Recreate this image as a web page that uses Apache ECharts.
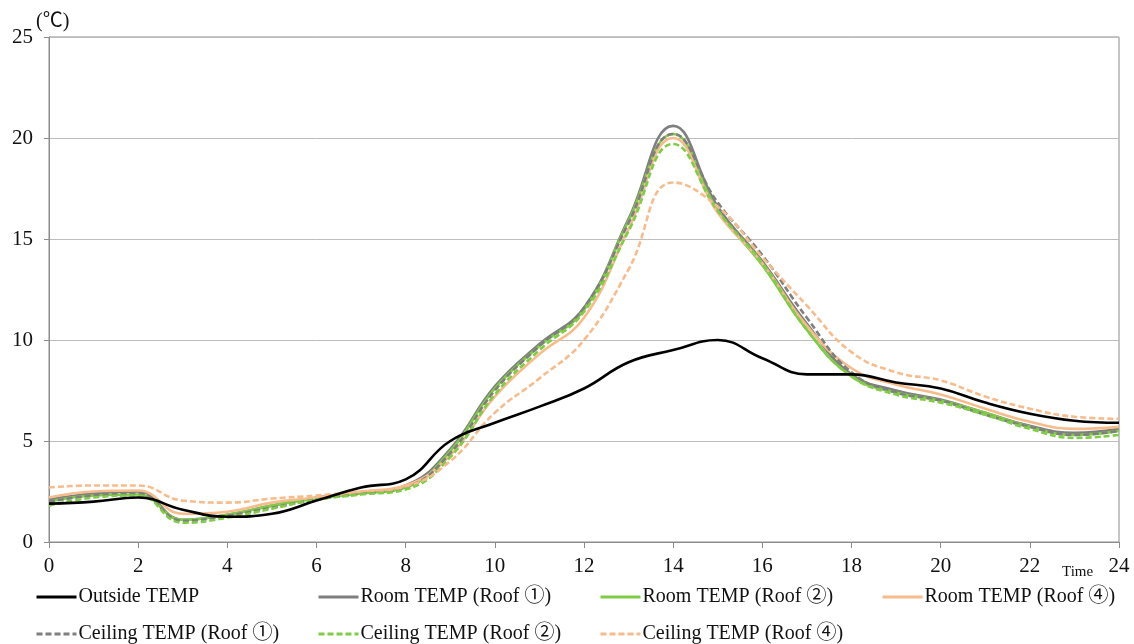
<!DOCTYPE html>
<html>
<head>
<meta charset="utf-8">
<script src="https://cdn.jsdelivr.net/npm/echarts@6/dist/echarts.min.js"></script>
<style>
html,body{margin:0;padding:0;background:#fff;}
#chart{width:1134px;height:644px;}
</style>
</head>
<body>
<div id="chart"></div>
<script>
// hours of the day (x values)
const hours = [0,1,2,3,4,5,6,7,8,9,10,11,12,13,14,15,16,17,18,19,20,21,22,23,24];
const xTicks = [0,2,4,6,8,10,12,14,16,18,20,22,24];
const yTicks = [0,5,10,15,20,25];

const seriesNames = [
  'Outside TEMP',
  'Room TEMP (Roof \u2460)',
  'Room TEMP (Roof \u2461)',
  'Room TEMP (Roof \u2463)',
  'Ceiling TEMP (Roof \u2460)',
  'Ceiling TEMP (Roof \u2461)',
  'Ceiling TEMP (Roof \u2463)'
];

const outsideTemp = [1.9, 2.0, 2.2, 1.6, 1.25, 1.4, 2.05, 2.7, 3.1, 5.0, 5.9, 6.7, 7.6, 8.9, 9.5, 10.0, 9.1, 8.3, 8.3, 7.9, 7.6, 6.9, 6.35, 6.0, 5.9];
const roomRoof1 = [2.1, 2.4, 2.5, 1.1, 1.35, 1.8, 2.2, 2.45, 2.8, 4.6, 7.7, 9.8, 11.6, 16.0, 20.6, 16.6, 13.9, 10.8, 8.3, 7.5, 7.05, 6.4, 5.75, 5.4, 5.6];
const roomRoof2 = [2.0, 2.3, 2.35, 1.1, 1.35, 1.8, 2.15, 2.4, 2.7, 4.5, 7.6, 9.7, 11.5, 15.9, 20.2, 16.4, 13.7, 10.5, 8.2, 7.4, 7.0, 6.4, 5.7, 5.3, 5.5];
const roomRoof4 = [2.2, 2.5, 2.55, 1.4, 1.5, 1.95, 2.2, 2.5, 2.8, 4.3, 7.2, 9.3, 11.1, 15.5, 20.0, 16.3, 13.8, 10.7, 8.6, 7.8, 7.3, 6.6, 5.95, 5.6, 5.7];
const ceilRoof1 = [2.0, 2.3, 2.4, 1.05, 1.3, 1.7, 2.1, 2.4, 2.7, 4.4, 7.5, 9.7, 11.6, 15.8, 20.2, 16.8, 14.2, 11.1, 8.4, 7.4, 7.0, 6.3, 5.7, 5.3, 5.5];
const ceilRoof2 = [1.8, 2.2, 2.3, 0.95, 1.2, 1.65, 2.1, 2.35, 2.6, 4.2, 7.3, 9.5, 11.4, 15.4, 19.7, 16.4, 13.8, 10.5, 8.2, 7.3, 6.9, 6.3, 5.6, 5.15, 5.3];
const ceilRoof4 = [2.7, 2.8, 2.8, 2.05, 1.95, 2.15, 2.3, 2.5, 2.75, 4.0, 6.4, 8.1, 10.0, 13.5, 17.8, 16.6, 14.1, 11.7, 9.4, 8.4, 8.0, 7.2, 6.6, 6.2, 6.1];

const FONT = '"Liberation Serif","Times New Roman","Noto Sans CJK JP",serif';
const colors = ['#000000', '#7f7f7f', '#7fcc45', '#f8bc8c', '#7f7f7f', '#7fcc45', '#f8bc8c'];
const dashed = [false, false, false, false, true, true, true];
const values = [outsideTemp, roomRoof1, roomRoof2, roomRoof4, ceilRoof1, ceilRoof2, ceilRoof4];

const series = seriesNames.map((name, i) => ({
  name: name,
  type: 'line',
  smooth: 0.45,
  symbol: 'none',
  z: i === 0 ? 3 : 2,
  data: hours.map((h, k) => [h, values[i][k]]),
  lineStyle: {
    color: colors[i],
    width: 2.6,
    type: dashed[i] ? [6, 3] : 'solid'
  },
  itemStyle: { color: colors[i] }
}));

function legendCol(left, names) {
  return {
    orient: 'vertical',
    left: left,
    top: 587,
    itemWidth: 40,
    itemHeight: 14,
    itemGap: 17,
    padding: 0,
    data: names,
    itemStyle: { opacity: 0 },
    lineStyle: { width: 3 },
    textStyle: { fontFamily: FONT, fontSize: 20, color: '#111', lineHeight: 20, padding: [0,0,0,-3] }
  };
}

const chart = echarts.init(document.getElementById('chart'), null, { renderer: 'canvas' });
chart.setOption({
  animation: false,
  backgroundColor: '#fff',
  grid: {
    left: 49, right: 15, top: 37, bottom: 102,
    show: true, borderColor: '#8c8c8c', borderWidth: 1, backgroundColor: 'transparent'
  },
  xAxis: {
    type: 'value',
    min: 0, max: 24, interval: 2,
    axisLine: { show: true, lineStyle: { color: '#8c8c8c', width: 1 } },
    axisTick: { show: true, length: 6, inside: false, lineStyle: { color: '#8c8c8c' } },
    axisLabel: {
      margin: 14, fontFamily: FONT, fontSize: 21, color: '#111',
      customValues: xTicks
    },
    splitLine: { show: false }
  },
  yAxis: {
    type: 'value',
    min: 0, max: 25, interval: 5,
    axisLine: { show: true, lineStyle: { color: '#8c8c8c', width: 1 } },
    axisTick: { show: true, length: 5, lineStyle: { color: '#8c8c8c' } },
    axisLabel: { margin: 16, fontFamily: FONT, fontSize: 21, color: '#111' },
    splitLine: { show: true, lineStyle: { color: '#bdbdbd', width: 1 } }
  },
  legend: [
    legendCol(35, [seriesNames[0], seriesNames[4]]),
    legendCol(317, [seriesNames[1], seriesNames[5]]),
    legendCol(599, [seriesNames[2], seriesNames[6]]),
    legendCol(881, [seriesNames[3]])
  ],
  graphic: [
    { type: 'text', left: 36, top: 12, style: { text: '(\u2103)', font: '20px ' + FONT, fill: '#111' } },
    { type: 'text', left: 1062, top: 565, style: { text: 'Time', font: '15px ' + FONT, fill: '#111' } }
  ],
  series: series
});
</script>
</body>
</html>
